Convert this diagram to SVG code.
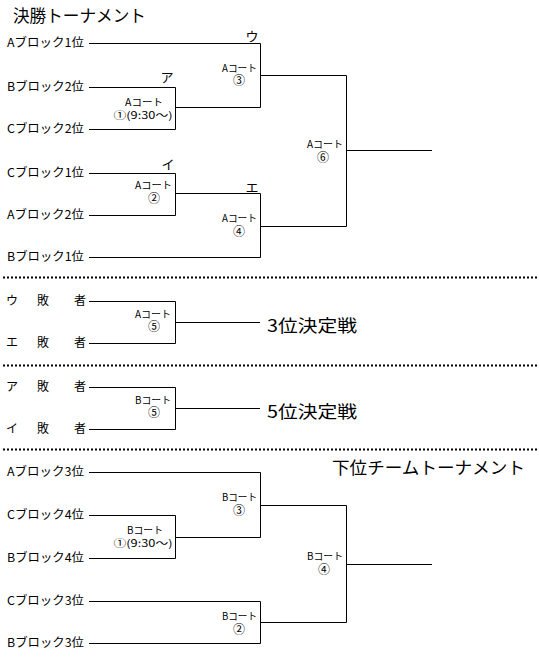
<svg xmlns="http://www.w3.org/2000/svg" width="539" height="658" viewBox="0 0 539 658">
<style>
text{font-family:"Noto Sans CJK JP","Liberation Sans",sans-serif;fill:#000}
.team{font-size:12px}
.court{font-size:10px}
.num{font-size:10px;text-anchor:middle}
.circ{font-size:12px;text-anchor:middle}
.title{font-size:17px}
.kana{font-size:13px}
.ln{fill:none;stroke:#000;stroke-width:1}
.dot{stroke:#000;stroke-width:2;stroke-dasharray:2 2}
</style>
<rect width="539" height="658" fill="#fff"/>
<text class="title" x="13" y="22" textLength="133" lengthAdjust="spacingAndGlyphs">決勝トーナメント</text>
<text class="title" x="332" y="474" textLength="193" lengthAdjust="spacingAndGlyphs">下位チームトーナメント</text>
<text class="title" x="267" y="332" textLength="90" lengthAdjust="spacingAndGlyphs">3位決定戦</text>
<text class="title" x="267" y="418" textLength="90" lengthAdjust="spacingAndGlyphs">5位決定戦</text>
<g id="separators">
<line class="dot" x1="3" y1="277.5" x2="537" y2="277.5"/>
<line class="dot" x1="3" y1="365.5" x2="537" y2="365.5"/>
<line class="dot" x1="3" y1="449.5" x2="537" y2="449.5"/>
</g>
<g id="teams" class="team">
<text x="7" y="47" textLength="77" lengthAdjust="spacingAndGlyphs">Aブロック1位</text>
<text x="7" y="91" textLength="77" lengthAdjust="spacingAndGlyphs">Bブロック2位</text>
<text x="7" y="133" textLength="77" lengthAdjust="spacingAndGlyphs">Cブロック2位</text>
<text x="7" y="177" textLength="77" lengthAdjust="spacingAndGlyphs">Cブロック1位</text>
<text x="7" y="219" textLength="77" lengthAdjust="spacingAndGlyphs">Aブロック2位</text>
<text x="7" y="261" textLength="77" lengthAdjust="spacingAndGlyphs">Bブロック1位</text>
<text x="6 24 37 55 74" y="305">ウ　敗　者</text>
<text x="6 24 37 55 74" y="347">エ　敗　者</text>
<text x="6 24 37 55 74" y="391">ア　敗　者</text>
<text x="6 24 37 55 74" y="433">イ　敗　者</text>
<text x="7" y="476" textLength="77" lengthAdjust="spacingAndGlyphs">Aブロック3位</text>
<text x="7" y="519" textLength="77" lengthAdjust="spacingAndGlyphs">Cブロック4位</text>
<text x="7" y="562" textLength="77" lengthAdjust="spacingAndGlyphs">Bブロック4位</text>
<text x="7" y="605" textLength="77" lengthAdjust="spacingAndGlyphs">Cブロック3位</text>
<text x="7" y="647" textLength="77" lengthAdjust="spacingAndGlyphs">Bブロック3位</text>
</g>
<g id="connectors">
<path class="ln" d="M89 43.5H260.5V107.5M89 87.5H175.5V129.5H89M175.5 107.5H260.5M260.5 75.5H346.5V226.5M89 173.5H175.5V215.5H89M175.5 193.5H260.5V257.5H89M260.5 226.5H346.5M346.5 150.5H432"/>
<path class="ln" d="M89 301.5H175.5V343.5H89M175.5 322.5H260"/>
<path class="ln" d="M89 387.5H175.5V429.5H89M175.5 408.5H260"/>
<path class="ln" d="M89 472.5H260.5V537.5M89 515.5H175.5V558.5H89M175.5 537.5H260.5M260.5 505.5H346.5V622.5M89 601.5H260.5V643.5H89M260.5 622.5H346.5M346.5 564.5H432"/>
</g>
<g id="final-A1">
<text class="kana" x="167" y="82" text-anchor="middle">ア</text>
<text class="court" x="144" y="106" text-anchor="middle" textLength="38" lengthAdjust="spacingAndGlyphs">Aコート</text>
<text class="num" x="143" y="119" textLength="59" lengthAdjust="spacingAndGlyphs">①(9:30～)</text>
</g>
<g id="final-A2">
<text class="kana" x="168" y="169" text-anchor="middle">イ</text>
<text class="court" x="172" y="189" text-anchor="end" textLength="37" lengthAdjust="spacingAndGlyphs">Aコート</text>
<text class="circ" x="154" y="203">②</text>
</g>
<g id="final-A3">
<text class="kana" x="252" y="41" text-anchor="middle">ウ</text>
<text class="court" x="257" y="72" text-anchor="end" textLength="35" lengthAdjust="spacingAndGlyphs">Aコート</text>
<text class="circ" x="239" y="85">③</text>
</g>
<g id="final-A4">
<text class="kana" x="252" y="192" text-anchor="middle">エ</text>
<text class="court" x="257" y="222" text-anchor="end" textLength="35" lengthAdjust="spacingAndGlyphs">Aコート</text>
<text class="circ" x="239" y="236">④</text>
</g>
<g id="final-A6">
<text class="court" x="343" y="148" text-anchor="end" textLength="36" lengthAdjust="spacingAndGlyphs">Aコート</text>
<text class="circ" x="323" y="162">⑥</text>
</g>
<g id="third-A5">
<text class="court" x="171" y="318" text-anchor="end" textLength="36" lengthAdjust="spacingAndGlyphs">Aコート</text>
<text class="circ" x="154" y="331">⑤</text>
</g>
<g id="fifth-B5">
<text class="court" x="171" y="404" text-anchor="end" textLength="36" lengthAdjust="spacingAndGlyphs">Bコート</text>
<text class="circ" x="154" y="417">⑤</text>
</g>
<g id="lower-B1">
<text class="court" x="145" y="534" text-anchor="middle" textLength="36" lengthAdjust="spacingAndGlyphs">Bコート</text>
<text class="num" x="143" y="547" textLength="59" lengthAdjust="spacingAndGlyphs">①(9:30～)</text>
</g>
<g id="lower-B3">
<text class="court" x="257" y="501" text-anchor="end" textLength="35" lengthAdjust="spacingAndGlyphs">Bコート</text>
<text class="circ" x="239" y="515">③</text>
</g>
<g id="lower-B2">
<text class="court" x="257" y="620" text-anchor="end" textLength="35" lengthAdjust="spacingAndGlyphs">Bコート</text>
<text class="circ" x="239" y="634">②</text>
</g>
<g id="lower-B4">
<text class="court" x="343" y="560" text-anchor="end" textLength="36" lengthAdjust="spacingAndGlyphs">Bコート</text>
<text class="circ" x="324" y="574">④</text>
</g>
</svg>
